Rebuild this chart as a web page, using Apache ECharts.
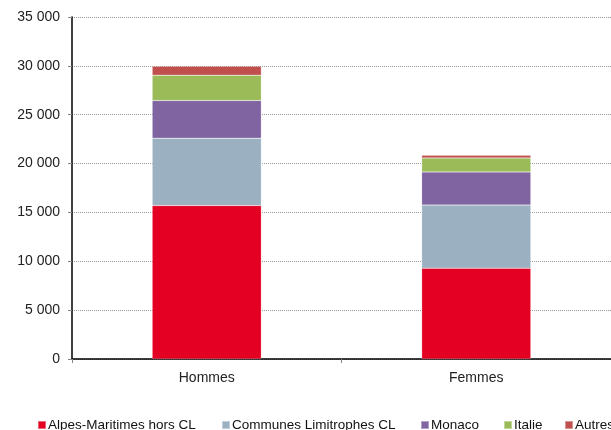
<!DOCTYPE html>
<html><head><meta charset="utf-8">
<script src="https://cdn.jsdelivr.net/npm/echarts@6/dist/echarts.min.js"></script>
<style>html,body{margin:0;padding:0;background:#fff}#c{width:611px;height:430px}</style>
</head><body><div id="c"></div>
<script>
const categories = ['Hommes', 'Femmes'];
const seriesNames = ['Alpes-Maritimes hors CL', 'Communes Limitrophes CL', 'Monaco', 'Italie', 'Autres'];
const alpesMaritimes = [15700, 9300];
const communesLimitrophes = [6900, 6450];
const monaco = [3850, 3400];
const italie = [2600, 1430];
const autres = [920, 280];
const yTicks = [0, 5000, 10000, 15000, 20000, 25000, 30000, 35000];

const colors = ['#E30022', '#9BB0C1', '#8064A2', '#9BBB59', '#C0504D'];
const values = [alpesMaritimes, communesLimitrophes, monaco, italie, autres];
const legendLefts = [37, 221, 420, 503, 564];
const font = 'Liberation Sans, Arial, Helvetica, sans-serif';

const chart = echarts.init(document.getElementById('c'));
chart.setOption({
  animation: false,
  color: colors,
  grid: { left: 72, right: -2, top: 17, bottom: 71, containLabel: false },
  legend: seriesNames.map((n, i) => ({
    data: [n], left: legendLefts[i], top: 418, padding: 0, itemWidth: 8, itemHeight: 8, itemGap: 0,
    icon: 'rect', width: 1000,
    textStyle: { fontFamily: font, fontSize: 13.5, color: '#111', padding: [0, 0, 0, -3] }
  })),
  xAxis: {
    type: 'category', data: categories,
    axisLine: { lineStyle: { color: '#000', width: 1.5 } },
    axisTick: { show: true, length: 4, lineStyle: { color: '#888' }, alignWithLabel: false },
    axisLabel: { fontFamily: font, fontSize: 14, color: '#222', margin: 12 }
  },
  yAxis: {
    type: 'value', min: yTicks[0], max: yTicks[yTicks.length - 1], interval: 5000,
    axisLine: { show: true, lineStyle: { color: '#000', width: 1.5 } },
    axisTick: { show: true, length: 4, lineStyle: { color: '#888' } },
    splitLine: { lineStyle: { color: '#999', type: [1, 1], width: 1 } },
    axisLabel: {
      fontFamily: font, fontSize: 14, color: '#222', margin: 12,
      formatter: v => String(v).replace(/\B(?=(\d{3})+(?!\d))/g, ' ')
    }
  },
  series: seriesNames.map((n, i) => ({
    name: n, type: 'bar', stack: 'total', data: values[i], barWidth: '40.5%',
    itemStyle: { color: colors[i], borderColor: 'rgba(255,255,255,0.4)', borderWidth: 0.5 }
  }))
});
</script></body></html>
